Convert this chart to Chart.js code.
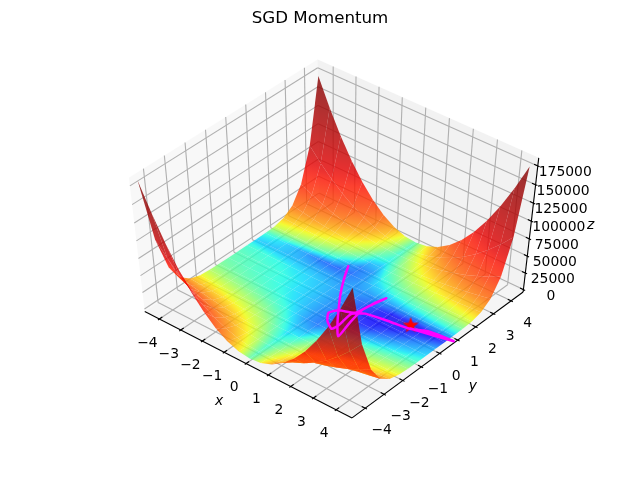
<!DOCTYPE html>
<html>
<head>
<meta charset="utf-8">
<title>SGD Momentum</title>
<script src="https://cdn.jsdelivr.net/npm/chart.js@4"></script>
<style>
  html, body { margin: 0; padding: 0; background: #fff; }
  canvas { display: block; }
</style>
</head>
<body>
<canvas id="chart" width="640" height="480"></canvas>
<script>
const gridX = [-4.5,-4,-3.5,-3,-2.5,-2,-1.5,-1,-0.5,0,0.5,1,1.5,2,2.5,3,3.5,4,4.5];
const gridY = [-4.5,-4,-3.5,-3,-2.5,-2,-1.5,-1,-0.5,0,0.5,1,1.5,2,2.5,3,3.5,4,4.5];
// heights per y row, estimated from the z axis and the colour bands
const zRows = [
  [181900,143900,110300,81250,56600,36390,20630,9320,2440,150,2030,8490,19390,34740,54530,78770,107400,140600,178100],
  [91930,72770,55840,41160,28700,18490,10520,4780,1280,120,990,4200,9650,17340,27260,39420,53820,70460,89330],
  [42840,33940,26070,19240,13450,8690,4970,2280,630,90,435,1890,4390,7920,12480,18080,24720,32390,41100],
  [18060,14330,11030,8160,5720,3720,2140,1000,292,60,168,755,1770,3220,5110,7420,10170,13350,16960],
  [6750,5370,4150,3080,2180,1430,836,404,130,40,56,256,614,1130,1800,2640,3630,4780,6080],
  [2210,1770,1380,1030,740,496,301,156,60,25,18,70,173,324,526,777,1080,1430,1830],
  [672,544,431,332,244,172,112,66,33,14,9,16,38,72,120,182,257,346,448],
  [250,208,170,136,105,79,57,39,24,14,8,5,7,13,23,36,54,76,102],
  [159,135,112,92,74,58,44,32,22,14,8.3,4.5,3,3,5.7,10,16,24,35],
  [132,113,96,79,65,52,40,30,21,14,8.6,4.5,2.5,2,2,3,6.3,11,18],
  [89,77,67,57,48,39,32,25,19,14,9.9,6.3,3.6,2,1.5,1,1.5,2,3.6],
  [30,28,26,24,22,20,18,16,14,14,14,14,14,16,18,20,22,24,26],
  [77,55,36,22,14,9,7,7,8,14,26,41,60,83,110,140,174,211,253],
  [970,745,551,385,250,144,67,20,10,14,56,126,227,356,516,705,923,1170,1450],
  [4480,3490,2630,1890,1270,779,404,153,25,25,128,363,720,1200,1800,2520,3370,4330,5420],
  [14280,11200,8500,6170,4220,2630,1420,579,111,60,289,937,1960,3350,5110,7250,9750,12630,15880],
  [36950,29080,22150,16150,11110,7000,3840,1620,347,90,625,2180,4680,8110,12500,17820,24090,31300,39460],
  [83290,65630,50080,36620,25270,16010,8860,3810,861,110,1270,4620,10080,17640,27300,39060,52930,68890,86960],
  [169670,133810,102200,74850,51740,32890,18300,7950,1860,150,2430,9090,20010,35170,54600,78270,106200,138380,174800]
];
const xTicks = [-4,-3,-2,-1,0,1,2,3,4];
const yTicks = [-4,-3,-2,-1,0,1,2,3,4];
const zTicks = [0,25000,50000,75000,100000,125000,150000,175000];
const pathX = [-0.91,-0.52,-0.02,0.48,0.95,1.49,1.28,1.14,1.34,1.19,1.06,0.52,0.35,0.62,1.03,1.09,1.0,1.36,2.24,3.1,3.67,4.7,3.1];
const pathY = [1.83,1.12,0.33,-0.36,-0.98,-1.59,-0.70,0.20,1.20,0.59,-0.15,-0.42,-0.75,-1.13,-1.40,-1.11,-0.29,0.03,0.2,0.33,0.62,0.74,0.36];
const pathZ = [7,6,5,5,5,9,5,4,5,4,4,5,6,7,8,7,4,3,1,0,2,4,0];
const minimaX = [3];
const minimaY = [0.5];
const minimaZ = [0];

const ELEV = 50 * Math.PI / 180, AZIM = -50 * Math.PI / 180, DIST = 10;
const XMIN = -4.5, XMAX = 4.5, ZMIN = 0, ZMAX = 181900;
const padX = (XMAX - XMIN) / 48, padZ = (ZMAX - ZMIN) / 48;
const LOG_LOW = -0.3, LOG_HIGH = Math.log10(ZMAX);

const n = [Math.cos(ELEV) * Math.cos(AZIM), Math.cos(ELEV) * Math.sin(AZIM), Math.sin(ELEV)];
const nLen = Math.hypot(n[0], n[1]);
const u = [-n[1] / nLen, n[0] / nLen, 0];
const v = [n[1]*u[2]-n[2]*u[1], n[2]*u[0]-n[0]*u[2], n[0]*u[1]-n[1]*u[0]];

function view(x, y, z) {
  const p = [(x - XMIN) / (XMAX - XMIN) - 0.5, (y - XMIN) / (XMAX - XMIN) - 0.5, (z - ZMIN) / (ZMAX - ZMIN) - 0.5];
  const d = p[0]*n[0] + p[1]*n[1] + p[2]*n[2];
  const w = DIST - d;
  return {x: (p[0]*u[0] + p[1]*u[1]) / w, y: (p[0]*v[0] + p[1]*v[1] + p[2]*v[2]) / w, d: d};
}
function proj(x, y, z) {
  const q = view(x, y, z);
  return {x: q.x, y: q.y};
}

const jetR = [[0,0],[0.35,0],[0.66,1],[0.89,1],[1,0.5]];
const jetG = [[0,0],[0.125,0],[0.375,1],[0.64,1],[0.91,0],[1,0]];
const jetB = [[0,0.5],[0.11,1],[0.34,1],[0.65,0],[1,0]];
function ramp(stops, t) {
  for (let i = 1; i < stops.length; i++) {
    if (t <= stops[i][0]) {
      const a = stops[i-1], b = stops[i];
      return a[1] + (b[1]-a[1]) * (t-a[0]) / (b[0]-a[0]);
    }
  }
  return stops[stops.length-1][1];
}
function jet(t, alpha) {
  t = Math.min(1, Math.max(0, t));
  return `rgba(${Math.round(ramp(jetR,t)*255)},${Math.round(ramp(jetG,t)*255)},${Math.round(ramp(jetB,t)*255)},${alpha})`;
}
function colorT(z) {
  return (Math.log10(Math.max(z, 0.01)) - LOG_LOW) / (LOG_HIGH - LOG_LOW);
}

function polygon(points, color) {
  return {data: points.concat([points[0]]), showLine: true, fill: 'shape', backgroundColor: color, borderWidth: 0, pointRadius: 0, clip: false};
}
function segment(a, b, color, width) {
  return {data: [a, b], showLine: true, fill: false, borderColor: color, borderWidth: width, pointRadius: 0, clip: false};
}

// colour of one cell, running across it the way the heights at its corners do
function cellFill(pts, ts) {
  return function(c) {
    const tc = (ts[0] + ts[1] + ts[2] + ts[3]) / 4;
    const sx = c.chart.scales.x, sy = c.chart.scales.y;
    if (!sx || !sy) return jet(tc, 0.8);
    const px = pts.map(p => [sx.getPixelForValue(p.x), sy.getPixelForValue(p.y)]);
    const gi = (ts[1] + ts[2] - ts[0] - ts[3]) / 2;
    const gj = (ts[2] + ts[3] - ts[0] - ts[1]) / 2;
    const ax = (px[1][0] + px[2][0] - px[0][0] - px[3][0]) / 2, ay = (px[1][1] + px[2][1] - px[0][1] - px[3][1]) / 2;
    const bx = (px[2][0] + px[3][0] - px[0][0] - px[1][0]) / 2, by = (px[2][1] + px[3][1] - px[0][1] - px[1][1]) / 2;
    const det = ax * by - ay * bx;
    const range = (Math.abs(gi) + Math.abs(gj)) / 2;
    if (!isFinite(det) || Math.abs(det) < 1 || range < 0.002) return jet(tc, 0.8);
    const gx = (by * gi - ay * gj) / det, gy = (ax * gj - bx * gi) / det;
    const len2 = gx * gx + gy * gy;
    const cx = (px[0][0] + px[1][0] + px[2][0] + px[3][0]) / 4, cy = (px[0][1] + px[1][1] + px[2][1] + px[3][1]) / 4;
    const g = c.chart.ctx.createLinearGradient(cx - gx / len2 * range, cy - gy / len2 * range, cx + gx / len2 * range, cy + gy / len2 * range);
    for (let k = 0; k <= 6; k++) g.addColorStop(k / 6, jet(tc - range + 2 * range * k / 6, 0.8));
    return g;
  };
}

const X0 = XMIN - padX, X1 = XMAX + padX, Z0 = ZMIN - padZ, Z1 = ZMAX + padZ;
const GRID = 'rgb(176,176,176)';
let drawList = [];

// panes
drawList.push(polygon([proj(X0,X0,Z0),proj(X0,X1,Z0),proj(X0,X1,Z1),proj(X0,X0,Z1)], 'rgba(242,242,242,0.5)'));
drawList.push(polygon([proj(X0,X1,Z0),proj(X1,X1,Z0),proj(X1,X1,Z1),proj(X0,X1,Z1)], 'rgba(230,230,230,0.5)'));
drawList.push(polygon([proj(X0,X0,Z0),proj(X1,X0,Z0),proj(X1,X1,Z0),proj(X0,X1,Z0)], 'rgba(236,236,236,0.5)'));

// grid lines on the panes
xTicks.forEach(t => {
  drawList.push(segment(proj(t,X0,Z0), proj(t,X1,Z0), GRID, 1.1));
  drawList.push(segment(proj(t,X1,Z0), proj(t,X1,Z1), GRID, 1.1));
});
yTicks.forEach(t => {
  drawList.push(segment(proj(X0,t,Z0), proj(X1,t,Z0), GRID, 1.1));
  drawList.push(segment(proj(X0,t,Z0), proj(X0,t,Z1), GRID, 1.1));
});
zTicks.forEach(t => {
  drawList.push(segment(proj(X0,X0,t), proj(X0,X1,t), GRID, 1.1));
  drawList.push(segment(proj(X0,X1,t), proj(X1,X1,t), GRID, 1.1));
});

// axis lines and tick marks
drawList.push(segment(proj(X0,X0,Z0), proj(X1,X0,Z0), '#000', 1.1));
drawList.push(segment(proj(X1,X0,Z0), proj(X1,X1,Z0), '#000', 1.1));
drawList.push(segment(proj(X1,X1,Z0), proj(X1,X1,Z1), '#000', 1.1));
xTicks.forEach(t => drawList.push(segment(proj(t,X0-0.075,Z0), proj(t,X0+0.15,Z0), '#000', 1.1)));
yTicks.forEach(t => drawList.push(segment(proj(X1+0.075,t,Z0), proj(X1-0.15,t,Z0), '#000', 1.1)));
zTicks.forEach(t => drawList.push(segment(proj(X1+0.075,X1,t), proj(X1-0.15,X1,t), '#000', 1.1)));

// surface cells, far ones first
let cells = [];
for (let j = 0; j < gridY.length - 1; j++) {
  for (let i = 0; i < gridX.length - 1; i++) {
    const corners = [[i,j],[i+1,j],[i+1,j+1],[i,j+1]];
    let depth = 0;
    const ts = [];
    const pts = corners.map(c => {
      const z = zRows[c[1]][c[0]];
      depth += view(gridX[c[0]], gridY[c[1]], z).d;
      ts.push(colorT(z));
      return proj(gridX[c[0]], gridY[c[1]], z);
    });
    cells.push({depth: depth, set: polygon(pts, cellFill(pts, ts))});
  }
}
cells.sort((a, b) => a.depth - b.depth);
cells.forEach(c => drawList.push(c.set));

// filled star for the minimum
const starImg = document.createElement('canvas');
starImg.width = 18; starImg.height = 18;
const sctx = starImg.getContext('2d');
sctx.fillStyle = '#ff0000';
sctx.beginPath();
for (let k = 0; k < 10; k++) {
  const r = k % 2 ? 3.4 : 8.4;
  const a = -Math.PI / 2 + k * Math.PI / 5;
  sctx.lineTo(9 + r * Math.cos(a), 9 + r * Math.sin(a));
}
sctx.closePath();
sctx.fill();

drawList.push({
  data: minimaX.map((x, i) => proj(x, minimaY[i], minimaZ[i])),
  showLine: false, pointStyle: starImg, pointRadius: 9, backgroundColor: '#ff0000', borderColor: '#ff0000', clip: false
});
drawList.push({
  data: pathX.map((x, i) => proj(x, pathY[i], pathZ[i])),
  showLine: true, fill: false, borderColor: '#ff00ff', borderWidth: 2.5, tension: 0.2,
  borderJoinStyle: 'round', borderCapStyle: 'round', pointRadius: 0, clip: false
});

drawList.forEach((d, i) => { d.order = drawList.length - i; });

const TICK_FONT = '13.9px "DejaVu Sans"';
const textPlugin = {
  id: 'axisText',
  afterDraw(chart) {
    const ctx = chart.ctx, sx = chart.scales.x, sy = chart.scales.y;
    const put = (q, dx, dy, s) => ctx.fillText(s, sx.getPixelForValue(q.x) + dx, sy.getPixelForValue(q.y) + dy);
    ctx.save();
    ctx.fillStyle = '#000';
    ctx.textAlign = 'center';
    ctx.textBaseline = 'middle';
    ctx.font = TICK_FONT;
    const fmt = t => String(t).replace('-', '\u2212');
    xTicks.forEach(t => put(proj(t, X0, Z0), -12, 24, fmt(t)));
    yTicks.forEach(t => put(proj(X1, t, Z0), 16.5, 22.5, fmt(t)));
    zTicks.forEach(t => put(proj(X1, X1, t), 27.5, 6.5, fmt(t)));
    ctx.font = 'italic 13.9px "DejaVu Sans"';
    put(proj(0, X0, Z0), -27, 38, 'x');
    put(proj(X1, 0, Z0), 33, 33, 'y');
    put(proj(X1, X1, 90000), 60, -3, 'z');
    ctx.font = '16.67px "DejaVu Sans"';
    ctx.fillText('SGD Momentum', 320, 18.5);
    ctx.restore();
  }
};

new Chart(document.getElementById('chart'), {
  type: 'scatter',
  data: {datasets: drawList},
  options: {
    responsive: false,
    devicePixelRatio: 1,
    animation: false,
    events: [],
    layout: {padding: {left: 80, right: 64, top: 57.6, bottom: 52.8}},
    scales: {
      x: {type: 'linear', display: false, min: -0.095, max: 0.09},
      y: {type: 'linear', display: false, min: -0.095, max: 0.09}
    },
    plugins: {legend: {display: false}, title: {display: false}, tooltip: {enabled: false}}
  },
  plugins: [textPlugin]
});
</script>
</body>
</html>
